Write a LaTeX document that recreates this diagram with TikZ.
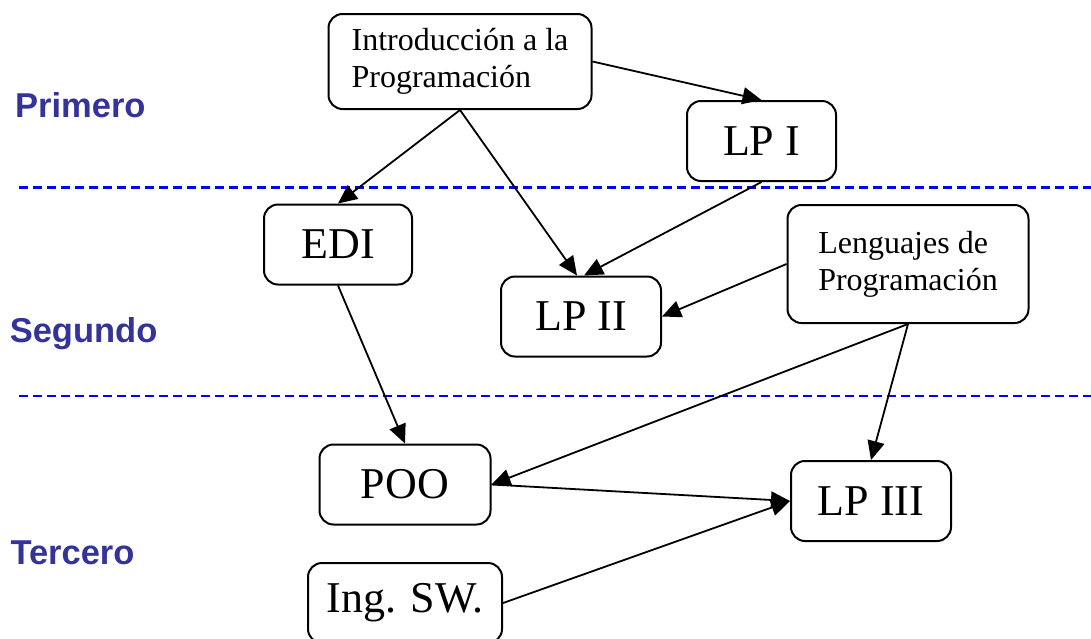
\documentclass[tikz,border=0pt]{standalone}
\usepackage{fontspec}
\setmainfont{Liberation Serif}
\newfontfamily\labelfont{Liberation Sans}
\usetikzlibrary{shapes,arrows.meta,positioning}
\definecolor{yearblue}{RGB}{51,51,153}

\begin{document}
\begin{tikzpicture}[x=1pt, y=-1pt, >={Triangle[length=19pt,width=17pt]}]
    \tikzset{
        n/.style        =   { rectangle
                            , rounded corners=14pt
                            , text centered
                            , draw=black
                            , line width=2pt
                            , minimum width=160pt
                            , minimum height=80pt
                            , font=\fontsize{44}{48}\selectfont
        }
        , twoline/.style =  { font=\fontsize{32}{36.7}\selectfont
                            , align=left
        }
        , year/.style   =   { anchor=base west
                            , inner sep=0pt
                            , text=yearblue
                            , font=\labelfont\bfseries\fontsize{34.5}{38}\selectfont
        }
        , arrow/.style  =   { line width=1.8pt
        }
        , divider/.style =  { blue
                            , line width=2.2pt
                            , dash pattern=on 9pt off 5pt
        }
    }
    \useasboundingbox (0,0) rectangle (1091,638);

    \draw[divider] (19,187.5) -- (1091,187.5);
    \draw[divider] (19,396)   -- (1091,396);

    \node(p)[year] at (15,117.3)   {Primero};
    \node(s)[year] at (9.6,342.7)  {Segundo};
    \node(t)[year] at (10.3,564.3) {Tercero};

    \node(1)[n, twoline, minimum width=263pt, minimum height=95pt] at (460,61.5) {Introducción a la\\Programación};
    \node(2)[n, minimum width=149pt] at (761.5,141)   {LP I};
    \node(3)[n, minimum width=148pt] at (338,244.5)   {EDI};
    \node(4)[n, twoline, minimum width=241pt, minimum height=118pt] at (908,264) {Lenguajes de\\Programación};
    \node(5)[n]                      at (581,316.5)   {LP II};
    \node(6)[n, minimum width=171pt] at (405,484.5)   {POO};
    \node(7)[n]                      at (871,501)     {LP III};
    \node(8)[n, minimum width=194pt] at (405,603)     {Ing. SW.};

    \draw[arrow,->] (1.east)  -- (2.north);
    \draw[arrow,->] (1.south) -- (3.north);
    \draw[arrow,->] (1.south) -- ([xshift=-4pt]5.north);
    \draw[arrow,->] (2.south) -- ([xshift=3pt]5.north);
    \draw[arrow,->] (4.west)  -- (5.east);
    \draw[arrow,->] (3.south) -- (6.north);
    \draw[arrow,->] (4.south) -- (6.east);
    \draw[arrow,->] (4.south) -- (7.north);
    \draw[arrow,->] (6.east)  -- (7.west);
    \draw[arrow,->] (8.east)  -- (7.west);
\end{tikzpicture}
\end{document}
